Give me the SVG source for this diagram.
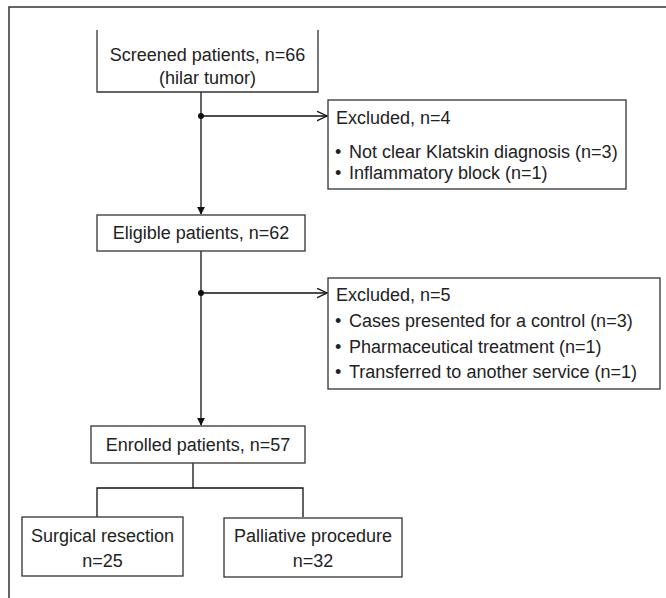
<svg xmlns="http://www.w3.org/2000/svg" width="666" height="598" viewBox="0 0 666 598">
<defs>
<style>
text{font-family:"Liberation Sans",Arial,sans-serif;font-size:18px;fill:#222}
.c{text-anchor:middle}
.box{fill:#fff;stroke:#333;stroke-width:1.3}
.ln{fill:none;stroke:#111;stroke-width:1.3}
</style>
<marker id="tri" viewBox="0 0 10 10" refX="9" refY="5" markerWidth="8" markerHeight="8" markerUnits="userSpaceOnUse" orient="auto"><path d="M0,0L10,5L0,10z" fill="#111"/></marker>
<marker id="open" viewBox="0 0 10 10" refX="9.5" refY="5" markerWidth="11" markerHeight="11" markerUnits="userSpaceOnUse" orient="auto"><path d="M0,0.5L9.5,5L0,9.5" fill="none" stroke="#111" stroke-width="1.2"/></marker>
</defs>
<rect width="666" height="598" fill="#fff"/>
<path d="M9,598V7H666" fill="none" stroke="#333" stroke-width="1.5"/>
<g id="connectors">
<path class="ln" d="M201,92V214" marker-end="url(#tri)"/>
<path class="ln" d="M201,116H327" marker-end="url(#open)"/>
<circle cx="201" cy="116" r="3" fill="#111"/>
<path class="ln" d="M201,251V425" marker-end="url(#tri)"/>
<path class="ln" d="M201,293H327" marker-end="url(#open)"/>
<circle cx="201" cy="293" r="3" fill="#111"/>
<path class="ln" d="M193,463V488M97,517V488H303V517"/>
</g>
<g id="screened">
<path class="box" d="M97,30V92H318V30"/>
<text class="c" x="207.5" y="61">Screened patients, n=66</text>
<text class="c" x="207.5" y="84">(hilar tumor)</text>
</g>
<g id="excluded1">
<rect class="box" x="328" y="100" width="298" height="89"/>
<text x="336" y="124">Excluded, n=4</text>
<text x="335" y="158">•<tspan x="349">Not clear Klatskin diagnosis (n=3)</tspan></text>
<text x="335" y="179">•<tspan x="349">Inflammatory block (n=1)</tspan></text>
</g>
<g id="eligible">
<rect class="box" x="97" y="215" width="208" height="36"/>
<text class="c" x="201" y="239">Eligible patients, n=62</text>
</g>
<g id="excluded2">
<rect class="box" x="328" y="278" width="332" height="111"/>
<text x="336" y="301">Excluded, n=5</text>
<text x="335" y="327">•<tspan x="349">Cases presented for a control (n=3)</tspan></text>
<text x="335" y="353">•<tspan x="349">Pharmaceutical treatment (n=1)</tspan></text>
<text x="335" y="378">•<tspan x="349">Transferred to another service (n=1)</tspan></text>
</g>
<g id="enrolled">
<rect class="box" x="91" y="426" width="214" height="37"/>
<text class="c" x="198" y="451">Enrolled patients, n=57</text>
</g>
<g id="surgical">
<rect class="box" x="22" y="517" width="161" height="59"/>
<text class="c" x="102.5" y="542">Surgical resection</text>
<text class="c" x="102.5" y="567">n=25</text>
</g>
<g id="palliative">
<rect class="box" x="224" y="518" width="178" height="59"/>
<text class="c" x="313" y="542">Palliative procedure</text>
<text class="c" x="313" y="567">n=32</text>
</g>
</svg>
